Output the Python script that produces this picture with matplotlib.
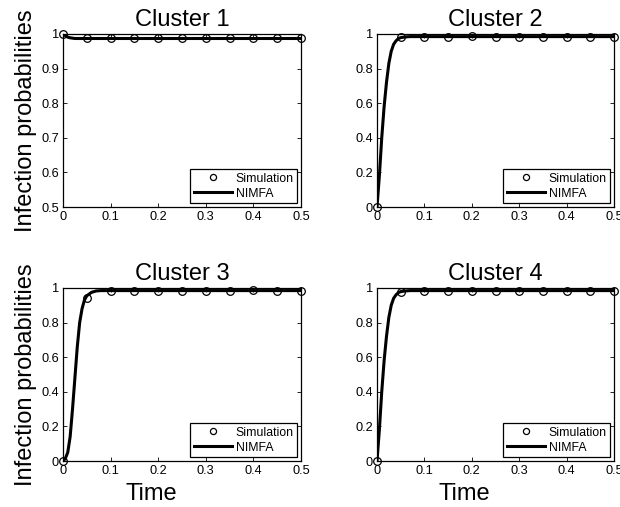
import matplotlib
matplotlib.use("Agg")
import matplotlib.pyplot as plt
from matplotlib.ticker import FuncFormatter

plt.rcParams['font.family'] = ['Liberation Sans', 'DejaVu Sans']

# Simulation samples (every 0.05 time units)
sim_t = [0.0, 0.05, 0.10, 0.15, 0.20, 0.25, 0.30, 0.35, 0.40, 0.45, 0.50]
sim_c1 = [1.0, 0.987, 0.987, 0.987, 0.987, 0.987, 0.987, 0.987, 0.987, 0.987, 0.987]
sim_c2 = [0.0, 0.980, 0.985, 0.985, 0.986, 0.985, 0.985, 0.985, 0.985, 0.985, 0.985]
sim_c3 = [0.0, 0.942, 0.985, 0.985, 0.985, 0.985, 0.985, 0.985, 0.986, 0.985, 0.985]
sim_c4 = [0.0, 0.975, 0.985, 0.985, 0.985, 0.985, 0.985, 0.985, 0.985, 0.985, 0.985]

# NIMFA solution
nimfa_t = [0.0, 0.005, 0.01, 0.015, 0.02, 0.025, 0.03, 0.035, 0.04, 0.045,
           0.05, 0.06, 0.07, 0.08, 0.10, 0.20, 0.30, 0.40, 0.50]
nimfa_c1 = [1.0, 0.995, 0.991, 0.989, 0.988, 0.987, 0.987, 0.987, 0.987, 0.987,
            0.987, 0.987, 0.987, 0.987, 0.987, 0.987, 0.987, 0.987, 0.987]
nimfa_c2 = [0.0, 0.18, 0.40, 0.58, 0.72, 0.83, 0.90, 0.94, 0.96, 0.973,
            0.979, 0.983, 0.985, 0.985, 0.985, 0.985, 0.985, 0.985, 0.985]
nimfa_c3 = [0.0, 0.015, 0.05, 0.14, 0.30, 0.48, 0.66, 0.80, 0.88, 0.93,
            0.955, 0.975, 0.983, 0.985, 0.985, 0.985, 0.985, 0.985, 0.985]
nimfa_c4 = [0.0, 0.18, 0.40, 0.58, 0.72, 0.83, 0.90, 0.94, 0.96, 0.973,
            0.979, 0.983, 0.985, 0.985, 0.985, 0.985, 0.985, 0.985, 0.985]

titles = ["Cluster 1", "Cluster 2", "Cluster 3", "Cluster 4"]
sims = [sim_c1, sim_c2, sim_c3, sim_c4]
lines = [nimfa_c1, nimfa_c2, nimfa_c3, nimfa_c4]
ylims = [(0.5, 1.0), (0.0, 1.0), (0.0, 1.0), (0.0, 1.0)]
yticks = [[0.5, 0.6, 0.7, 0.8, 0.9, 1.0],
          [0.0, 0.2, 0.4, 0.6, 0.8, 1.0],
          [0.0, 0.2, 0.4, 0.6, 0.8, 1.0],
          [0.0, 0.2, 0.4, 0.6, 0.8, 1.0]]
xticks = [0.0, 0.1, 0.2, 0.3, 0.4, 0.5]

W, H = 620, 507
fig = plt.figure(figsize=(W / 100, H / 100), dpi=100)

# axes boxes in pixels: left, top, right, bottom
boxes = [(63, 34, 301, 207), (377, 34, 614, 207),
         (63, 288, 301, 461), (377, 288, 614, 461)]

fmt = FuncFormatter(lambda v, p: ("%g" % round(v, 3)))

for i, (l, t, r, b) in enumerate(boxes):
    ax = fig.add_axes([l / W, 1 - b / H, (r - l) / W, (b - t) / H])
    ax.plot(nimfa_t, lines[i], color='black', lw=2.2, label='NIMFA', zorder=2)
    ax.plot(sim_t, sims[i], linestyle='none', marker='o', markersize=5.5,
            markerfacecolor='none', markeredgecolor='black', markeredgewidth=0.9,
            label='Simulation', zorder=3, clip_on=False)
    ax.set_xlim(0, 0.5)
    ax.set_ylim(*ylims[i])
    ax.set_xticks(xticks)
    ax.set_yticks(yticks[i])
    ax.xaxis.set_major_formatter(fmt)
    ax.yaxis.set_major_formatter(fmt)
    ax.tick_params(direction='in', top=True, right=True, length=3, width=0.6,
                   labelsize=9.2, pad=3)
    for s in ax.spines.values():
        s.set_linewidth(0.9)
    ax.set_title(titles[i], fontsize=17, pad=6)
    h, lab = ax.get_legend_handles_labels()
    leg = ax.legend([h[1], h[0]], [lab[1], lab[0]], loc='lower right',
                    fontsize=8.8, frameon=True, fancybox=False, framealpha=1,
                    edgecolor='black', handlelength=3.1, handletextpad=0.3,
                    borderpad=0.3, labelspacing=0.25, numpoints=1,
                    borderaxespad=0.3, markerscale=0.8)
    leg.get_frame().set_linewidth(0.9)
    if i % 2 == 0:
        ax.set_ylabel("Infection probabilities", fontsize=17)
        ax.yaxis.set_label_coords(-0.11, 0.5)
    if i >= 2:
        ax.set_xlabel("Time", fontsize=17, labelpad=0)
        ax.xaxis.set_label_coords(0.37, -0.125)

fig.savefig("out.png", dpi=100)
